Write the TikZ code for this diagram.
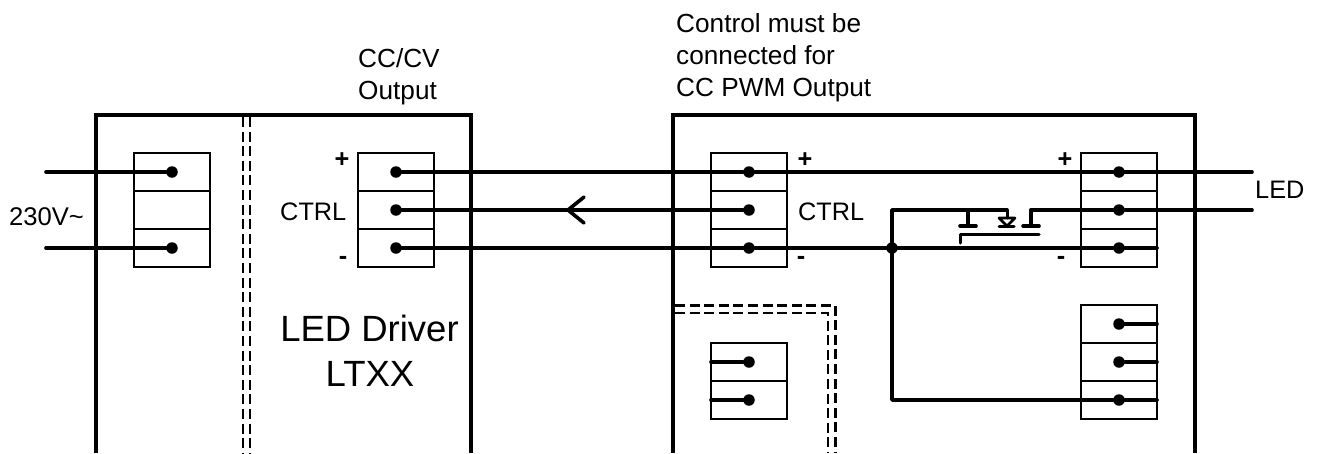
\documentclass[tikz,border=0pt]{standalone}
\usepackage{fontspec}
\setmainfont{Liberation Sans}
\tikzset{
  wire/.style={line width=3.6pt,line cap=round,line join=round},
  frame/.style={line width=3.6pt,line join=miter},
  thin box/.style={line width=2pt},
  dashline/.style={line width=2.4pt,dash pattern=on 10pt off 4.6pt},
  dot/.style={circle,fill=black,inner sep=0pt,minimum size=11.5pt},
  lab/.style={inner sep=0pt,font=\fontsize{25.3}{32}\selectfont,text=black},
  polarity/.style={inner sep=0pt,font=\fontsize{25.3}{32}\selectfont\bfseries,text=black},
  caption text/.style={inner sep=0pt,font=\fontsize{26.2}{32}\selectfont,text=black,anchor=base west},
  big/.style={inner sep=0pt,font=\fontsize{36.5}{42}\selectfont,text=black,anchor=base},
  sym/.style={line width=2.6pt,line cap=round,line join=round}
}
\newcommand{\termbox}[3]{% x, top y, rows
  \draw[thin box] (#1,#2) rectangle (#1+76,#2+38*#3);
  \foreach \r in {1,...,#3}{\ifnum\r<#3 \draw[thin box] (#1,#2+38*\r) -- (#1+76,#2+38*\r);\fi}
}
\begin{document}
\begin{tikzpicture}[x=1pt,y=-1pt]
\useasboundingbox (0,0) rectangle (1317,453);
\fill[white] (0,0) rectangle (1317,453);
% enclosures
\draw[frame] (96,453) -- (96,115) -- (471,115) -- (471,453);
\draw[frame] (673,453) -- (673,115) -- (1195,115) -- (1195,453);
\draw[dashline] (243,117) -- (243,453);
\draw[dashline] (250,117) -- (250,453);
\draw[dashline] (675,305.5) -- (835.5,305.5) -- (835.5,453);
\draw[dashline] (675,313) -- (828,313) -- (828,453);
% terminals
\termbox{134}{153}{3}
\termbox{358}{153}{3}
\termbox{711}{153}{3}
\termbox{1081}{153}{3}
\termbox{1081}{305}{3}
\termbox{711}{343}{2}
% terminal dots
\node[dot] (a1) at (172,172) {};
\node[dot] (a3) at (172,248) {};
\node[dot] (b1) at (396,172) {};
\node[dot] (b2) at (396,210) {};
\node[dot] (b3) at (396,248) {};
\node[dot] (c1) at (749,172) {};
\node[dot] (c2) at (749,210) {};
\node[dot] (c3) at (749,248) {};
\node[dot] (d1) at (1119,172) {};
\node[dot] (d2) at (1119,210) {};
\node[dot] (d3) at (1119,248) {};
\node[dot] (e1) at (1119,324) {};
\node[dot] (e2) at (1119,362) {};
\node[dot] (e3) at (1119,400) {};
\node[dot] (f1) at (749,362) {};
\node[dot] (f2) at (749,400) {};
\node[dot] (j) at (892,248) {};
% free ends
\coordinate (in1) at (46,172);
\coordinate (in2) at (46,248);
\coordinate (led1) at (1252,172);
\coordinate (led2) at (1252,210);
\coordinate (d3r) at (1157,248);
\coordinate (e1r) at (1157,324);
\coordinate (e2r) at (1157,362);
\coordinate (e3r) at (1157,400);
\coordinate (f1l) at (711,362);
\coordinate (f2l) at (711,400);
\coordinate (corner1) at (892,210);
\coordinate (corner2) at (892,400);
\coordinate (gateL) at (968,210);
\coordinate (gateR) at (1031,210);
% wires
\draw[wire] (in1) -- (a1);
\draw[wire] (in2) -- (a3);
\draw[wire] (b1) -- (c1) -- (d1) -- (led1);
\draw[wire] (b2) -- (c2);
\draw[wire] (b3) -- (c3) -- (j) -- (d3) -- (d3r);
\draw[wire] (e1) -- (e1r);
\draw[wire] (e2) -- (e2r);
\draw[wire] (e3) -- (e3r);
\draw[wire] (f1) -- (f1l);
\draw[wire] (f2) -- (f2l);
\draw[wire] (j) -- (corner1) -- (gateL) -- (1007,210);
\draw[wire] (j) -- (corner2) -- (e3);
\draw[wire] (d2) -- (led2);
\draw[wire] (d2) -- (gateR);
% arrow mark
\draw[wire] (584,197) -- (568,210) -- (584,223);
% MOSFET
\draw[wire] (gateL) -- (968,226);
\draw[wire] (960,226) -- (976,226);
\draw[sym,line width=3pt] (1007,210) -- (1007,218);
\draw[sym] (999,218) -- (1015,218) -- (1007,226) -- cycle;
\draw[sym,line width=3pt] (999,226) -- (1014,226);
\draw[wire] (gateR) -- (1031,226);
\draw[wire] (1023,226) -- (1039,226);
\draw[sym,line width=3pt] (960,243) -- (960,234) -- (1039,234);
% labels
\node[lab,anchor=west,font=\fontsize{25.6}{32}\selectfont] (t230) at (9,217) {230V\symbol{126}};
\node[caption text] (tcc) at (358,67) {CC/CV};
\node[caption text] (tout) at (358,99) {Output};
\node[caption text] (tc1) at (676,32) {Control must be};
\node[caption text] (tc2) at (676,64) {connected for};
\node[caption text] (tc3) at (676,96) {CC PWM Output};
\node[polarity] (pb) at (342,160) {+};
\node[lab,anchor=east] (cb) at (346.5,211.5) {CTRL};
\node[polarity] (mb) at (343,260) {-};
\node[polarity] (pc) at (805,160) {+};
\node[lab,anchor=west] (cc) at (798,211.5) {CTRL};
\node[polarity] (mc) at (801,260) {-};
\node[polarity] (pd) at (1065,160) {+};
\node[polarity] (md) at (1061,260) {-};
\node[lab,anchor=west] (tled) at (1255,190) {LED};
\node[big] (t1) at (369.5,341.7) {LED Driver};
\node[big] (t2) at (370,386) {LTXX};
\end{tikzpicture}
\end{document}
